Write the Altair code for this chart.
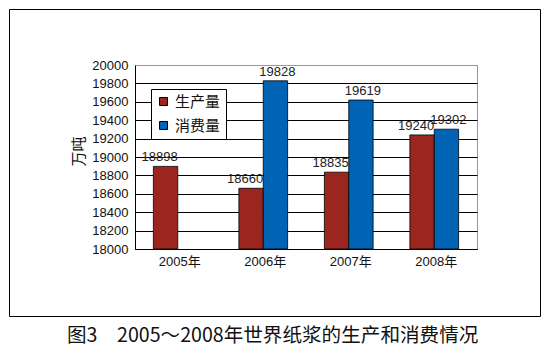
import altair as alt
import pandas as pd

years = ["2005年", "2006年", "2007年", "2008年"]
production = [18898, 18660, 18835, 19240]
consumption = [None, 19828, 19619, 19302]
series = ["生产量", "消费量"]
colors = ["#9b2620", "#0063b4"]
y_ticks = list(range(18000, 20001, 200))
y_title = "万吨"
caption = "图3　2005～2008年世界纸浆的生产和消费情况"

rows = []
for i, yr in enumerate(years):
    for s, vals in zip(series, [production, consumption]):
        if vals[i] is not None:
            rows.append({"year": yr, "series": s, "value": vals[i]})
df = pd.DataFrame(rows)

LAT = "Liberation Sans, Arial, Noto Sans CJK SC"
CJK = "Noto Sans CJK SC"

x_enc = alt.X("year:N", sort=years,
              scale=alt.Scale(paddingInner=0.43, paddingOuter=0.215),
              axis=alt.Axis(title=None, labelAngle=0, labelFont=LAT, labelFontSize=13,
                            labelColor="#111", labelPadding=6, labelOffset=2,
                            ticks=False, domainColor="black", grid=False))
xo_enc = alt.XOffset("series:N", sort=series,
                     scale=alt.Scale(domain=series, paddingInner=0, paddingOuter=0))
y_enc = alt.Y("value:Q",
              scale=alt.Scale(domain=[18000, 20000], nice=False, zero=False),
              axis=alt.Axis(values=y_ticks, tickCount=len(y_ticks),
                            title=y_title, titleFont=CJK, titleFontSize=15,
                            titleFontWeight="normal", titleColor="#111",
                            titleX=-57, titleY=86, titleAngle=-90,
                            titleBaseline="middle", titleAlign="center",
                            labelFont=LAT, labelFontSize=13, labelColor="#111",
                            labelPadding=7, labelOverlap=False, labelBound=False,
                            ticks=False, domainColor="black",
                            gridColor=alt.condition(alt.datum.value == 20000,
                                                    alt.value("#999999"), alt.value("black")),
                            gridWidth=1, format="d"))

base = alt.Chart(df)

bars = base.mark_bar(stroke="black", strokeWidth=0.8).encode(
    x=x_enc, xOffset=xo_enc, y=y_enc, y2=alt.datum(18000),
    color=alt.Color("series:N", sort=series,
                    scale=alt.Scale(domain=series, range=colors),
                    legend=alt.Legend(title=None, orient="none", legendX=16, legendY=24,
                                      fillColor="white", strokeColor="black", padding=5,
                                      symbolType="square", symbolSize=64,
                                      symbolStrokeColor="black", symbolStrokeWidth=1,
                                      labelFont=CJK, labelFontSize=15, labelColor="#111",
                                      rowPadding=8, labelOffset=4)),
)

lab_p = base.transform_filter(alt.datum.series == series[0]).mark_text(
    baseline="bottom", dy=-2, dx=-6, font=LAT, fontSize=13, color="#222").encode(
    x=alt.X("year:N", sort=years), xOffset=alt.XOffset("series:N", sort=series),
    y="value:Q", text=alt.Text("value:Q", format="d"))
lab_c = base.transform_filter(alt.datum.series == series[1]).mark_text(
    baseline="bottom", dy=-2, dx=2, font=LAT, fontSize=13, color="#222").encode(
    x=alt.X("year:N", sort=years), xOffset=alt.XOffset("series:N", sort=series),
    y="value:Q", text=alt.Text("value:Q", format="d"))

frame = alt.Chart(alt.Data(values=[{}])).mark_rect(
    fill="white", fillOpacity=0, stroke="black", strokeWidth=1).encode(
    x=alt.value(-125.5), x2=alt.value(405.5), y=alt.value(-55.5), y2=alt.value(251.5))

cap = alt.Chart(alt.Data(values=[{}])).mark_text(
    align="left", baseline="middle", font=CJK, fontSize=19.6, color="#111").encode(
    x=alt.value(-68), y=alt.value(271), text=alt.value(caption))

chart = alt.layer(bars, lab_p, lab_c, frame, cap).properties(
    width=342, height=184, padding={"left": 1, "top": 1, "right": 1, "bottom": 1},
    background="white"
).configure_view(stroke="#999999", strokeWidth=1)

chart.save("out.html", embed_options={"renderer": "svg", "actions": False})
